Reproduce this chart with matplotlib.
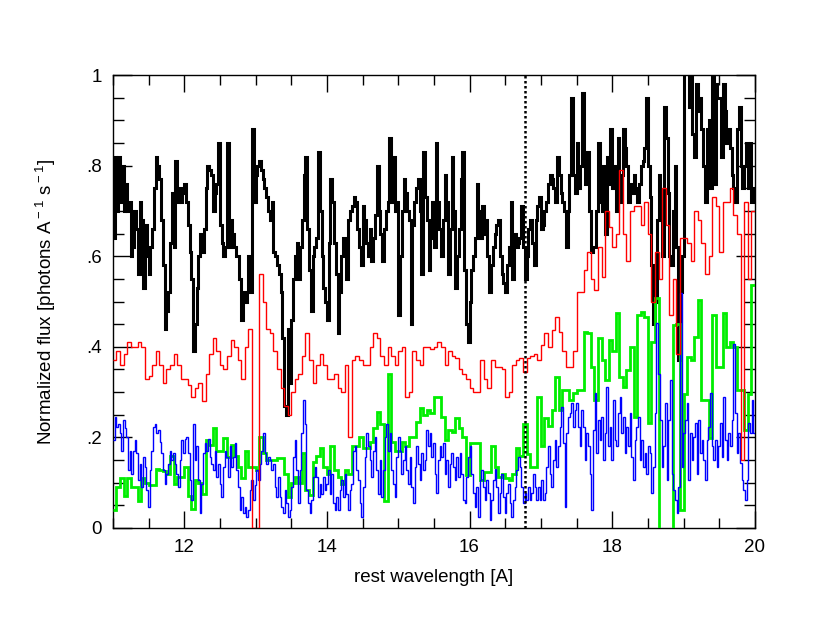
import numpy as np
import matplotlib
matplotlib.use("Agg")
import matplotlib.pyplot as plt
from matplotlib.ticker import MultipleLocator, FixedLocator

plt.rcParams['font.family'] = ['Liberation Sans', 'DejaVu Sans']
plt.rcParams['mathtext.fontset'] = 'custom'
plt.rcParams['mathtext.rm'] = 'Liberation Sans'

# wavelength range [A]
wave_min, wave_max = 11.0, 20.0
line_wave = 16.78  # dotted marker line

# black spectrum, 0.025 A bins
black_flux = [
    0.64, 0.82, 0.70, 0.82, 0.72, 0.80, 0.70, 0.76, 0.70, 0.72,
    0.60, 0.62, 0.70, 0.66, 0.56, 0.72, 0.68, 0.53, 0.67, 0.60,
    0.56, 0.62, 0.66, 0.75, 0.82, 0.80, 0.77, 0.68, 0.58, 0.44,
    0.48, 0.52, 0.63, 0.74, 0.62, 0.81, 0.72, 0.75, 0.72, 0.74,
    0.76, 0.72, 0.67, 0.61, 0.55, 0.39, 0.45, 0.53, 0.60, 0.65,
    0.61, 0.66, 0.75, 0.80, 0.79, 0.78, 0.70, 0.74, 0.76, 0.85,
    0.67, 0.63, 0.60, 0.62, 0.85, 0.62, 0.68, 0.65, 0.62, 0.60,
    0.60, 0.55, 0.46, 0.52, 0.50, 0.52, 0.60, 0.52, 0.88, 0.72,
    0.78, 0.80, 0.81, 0.79, 0.77, 0.75, 0.73, 0.70, 0.68, 0.72,
    0.61, 0.60, 0.58, 0.56, 0.52, 0.42, 0.27, 0.25, 0.44, 0.32,
    0.46, 0.55, 0.60, 0.63, 0.55, 0.62, 0.68, 0.78, 0.82, 0.66,
    0.57, 0.48, 0.60, 0.62, 0.64, 0.83, 0.70, 0.60, 0.53, 0.50,
    0.46, 0.63, 0.77, 0.72, 0.63, 0.56, 0.43, 0.52, 0.60, 0.64,
    0.64, 0.55, 0.68, 0.70, 0.71, 0.73, 0.72, 0.66, 0.62, 0.58,
    0.71, 0.68, 0.63, 0.60, 0.66, 0.59, 0.64, 0.69, 0.80, 0.70,
    0.65, 0.59, 0.66, 0.70, 0.72, 0.86, 0.72, 0.82, 0.70, 0.72,
    0.47, 0.60, 0.70, 0.77, 0.74, 0.70, 0.68, 0.45, 0.67, 0.72,
    0.75, 0.77, 0.70, 0.56, 0.83, 0.73, 0.68, 0.57, 0.64, 0.72,
    0.62, 0.85, 0.72, 0.66, 0.60, 0.68, 0.78, 0.72, 0.56, 0.66,
    0.82, 0.70, 0.53, 0.60, 0.66, 0.77, 0.83, 0.57, 0.45, 0.41,
    0.50, 0.57, 0.60, 0.64, 0.76, 0.70, 0.64, 0.71, 0.65, 0.68,
    0.60, 0.52, 0.58, 0.62, 0.65, 0.67, 0.68, 0.60, 0.56, 0.54,
    0.52, 0.58, 0.62, 0.72, 0.55, 0.65, 0.62, 0.63, 0.64, 0.71,
    0.62, 0.55, 0.60, 0.66, 0.68, 0.63, 0.58, 0.68, 0.71, 0.73,
    0.66, 0.67, 0.70, 0.72, 0.76, 0.78, 0.77, 0.75, 0.72, 0.82,
    0.78, 0.74, 0.72, 0.70, 0.62, 0.70, 0.78, 0.95, 0.78, 0.74,
    0.85, 0.75, 0.80, 0.96, 0.82, 0.76, 0.83, 0.70, 0.61, 0.62,
    0.62, 0.70, 0.85, 0.72, 0.70, 0.80, 0.65, 0.82, 0.76, 0.88,
    0.75, 0.80, 0.70, 0.86, 0.72, 0.78, 0.88, 0.84, 0.80, 0.72,
    0.76, 0.74, 0.78, 0.75, 0.72, 0.76, 0.80, 0.81, 0.84, 0.95,
    0.80, 0.73, 0.58, 0.45, 0.50, 0.68, 0.78, 0.70, 0.60, 0.93,
    0.86, 0.74, 0.60, 0.58, 0.70, 0.80, 0.62, 0.37, 0.52, 0.60,
    1.05, 1.05, 1.02, 0.93, 1.02, 0.87, 0.82, 0.98, 0.92, 0.95,
    0.88, 0.80, 0.72, 0.88, 0.90, 0.75, 1.05, 0.76, 0.98, 0.95,
    0.95, 0.82, 0.98, 0.92, 0.85, 0.88, 0.84, 0.78, 0.75, 0.72,
    0.88, 0.93, 0.80, 0.75, 0.80, 0.85, 0.75, 0.85, 0.72, 0.75,
]

# red spectrum, 0.05 A bins
red_flux = [
    0.37, 0.39, 0.36, 0.385, 0.41, 0.40, 0.40, 0.41, 0.40, 0.33,
    0.335, 0.36, 0.39, 0.36, 0.32, 0.35, 0.36, 0.385, 0.36, 0.33,
    0.33, 0.315, 0.29, 0.31, 0.32, 0.28, 0.34, 0.385, 0.42, 0.39,
    0.36, 0.35, 0.38, 0.415, 0.40, 0.37, 0.33, 0.40, 0.44, 0.0,
    0.0, 0.56, 0.50, 0.44, 0.43, 0.39, 0.35, 0.31, 0.27, 0.25,
    0.30, 0.33, 0.34, 0.38, 0.43, 0.37, 0.32, 0.36, 0.385, 0.36,
    0.33, 0.33, 0.34, 0.31, 0.30, 0.36, 0.20, 0.37, 0.38, 0.37,
    0.36, 0.36, 0.40, 0.43, 0.42, 0.38, 0.36, 0.40, 0.38, 0.36,
    0.39, 0.40, 0.29, 0.30, 0.39, 0.37, 0.36, 0.40, 0.40, 0.395,
    0.40, 0.41, 0.40, 0.36, 0.39, 0.38, 0.375, 0.35, 0.34, 0.33,
    0.31, 0.30, 0.30, 0.37, 0.33, 0.31, 0.37, 0.355, 0.355, 0.35,
    0.29, 0.30, 0.36, 0.37, 0.375, 0.345, 0.375, 0.38, 0.385, 0.37,
    0.405, 0.43, 0.40, 0.437, 0.465, 0.433, 0.39, 0.356, 0.356, 0.39,
    0.52, 0.52, 0.57, 0.61, 0.55, 0.525, 0.62, 0.555, 0.70, 0.665,
    0.62, 0.65, 0.79, 0.65, 0.59, 0.70, 0.71, 0.71, 0.67, 0.72,
    0.65, 0.50, 0.61, 0.55, 0.75, 0.67, 0.47, 0.55, 0.385, 0.64,
    0.64, 0.63, 0.59, 0.70, 0.68, 0.63, 0.56, 0.60, 0.73, 0.71,
    0.61, 0.72, 0.72, 0.75, 0.69, 0.65, 0.15, 0.72, 0.55, 0.70,
]

# green spectrum, 0.05 A bins
green_flux = [
    0.04, 0.09, 0.11, 0.07, 0.11, 0.09, 0.09, 0.06, 0.11, 0.10,
    0.095, 0.095, 0.13, 0.128, 0.125, 0.12, 0.158, 0.098, 0.113, 0.113,
    0.135, 0.07, 0.043, 0.106, 0.10, 0.076, 0.194, 0.183, 0.22, 0.17,
    0.17, 0.198, 0.157, 0.183, 0.16, 0.135, 0.11, 0.17, 0.135, 0.135,
    0.128, 0.20, 0.165, 0.15, 0.15, 0.15, 0.154, 0.154, 0.12, 0.069,
    0.10, 0.113, 0.10, 0.165, 0.084, 0.073, 0.146, 0.16, 0.176, 0.135,
    0.12, 0.18, 0.128, 0.113, 0.098, 0.128, 0.12, 0.18, 0.18, 0.20,
    0.176, 0.176, 0.19, 0.22, 0.256, 0.23, 0.06, 0.34, 0.19, 0.17,
    0.17, 0.19, 0.18, 0.20, 0.20, 0.235, 0.265, 0.25, 0.26, 0.253,
    0.29, 0.29, 0.246, 0.194, 0.216, 0.213, 0.242, 0.22, 0.20, 0.117,
    0.187, 0.187, 0.187, 0.106, 0.124, 0.124, 0.18, 0.135, 0.113, 0.12,
    0.11, 0.106, 0.12, 0.176, 0.158, 0.23, 0.164, 0.135, 0.135, 0.29,
    0.18, 0.242, 0.226, 0.26, 0.334, 0.26, 0.305, 0.305, 0.283, 0.297,
    0.305, 0.305, 0.433, 0.43, 0.356, 0.283, 0.42, 0.37, 0.326, 0.415,
    0.39, 0.474, 0.334, 0.312, 0.349, 0.40, 0.246, 0.47, 0.477, 0.466,
    0.231, 0.41, 0.507, -0.02, -0.02, -0.02, -0.02, 0.448, 0.45, 0.04,
    0.296, 0.378, 0.37, 0.422, 0.503, 0.283, 0.283, 0.198, 0.47, 0.356,
    0.356, 0.474, 0.40, 0.41, 0.40, 0.305, 0.305, 0.216, 0.296, 0.536,
]

# blue spectrum, fine bins (~0.023 A)
blue_flux = [
    0.195, 0.246, 0.224, 0.23, 0.21, 0.17, 0.238, 0.22, 0.20, 0.128,
    0.17, 0.12, 0.17, 0.195, 0.165, 0.106, 0.142, 0.091, 0.157, 0.135,
    0.084, 0.047, 0.128, 0.17, 0.224, 0.23, 0.21, 0.216, 0.19, 0.165,
    0.128, 0.098, 0.12, 0.142, 0.17, 0.15, 0.165, 0.142, 0.12, 0.091,
    0.15, 0.195, 0.165, 0.197, 0.20, 0.165, 0.106, 0.062, 0.23, 0.15,
    0.18, 0.106, 0.032, 0.098, 0.165, 0.187, 0.17, 0.197, 0.157, 0.142,
    0.128, 0.17, 0.113, 0.142, 0.098, 0.069, 0.135, 0.17, 0.157, 0.113,
    0.18, 0.135, 0.157, 0.187, 0.128, 0.091, 0.04, 0.069, 0.032, 0.047,
    0.025, 0.04, 0.084, 0.106, 0.062, 0.095, 0.128, 0.106, 0.142, 0.17,
    0.21, 0.165, 0.142, 0.157,
    0.15, 0.128, 0.142, 0.091, 0.069, 0.113, 0.069, 0.047, 0.032, 0.084,
    0.055, 0.025, 0.04, 0.091, 0.157, 0.195, 0.128, 0.055, 0.128, 0.21,
    0.283, 0.23, 0.084, 0.055, 0.032, 0.062, 0.113, 0.135, 0.113, 0.069,
    0.098, 0.076, 0.113, 0.084, 0.098, 0.128, 0.076, 0.12, 0.055, 0.04,
    0.069, 0.04, 0.084, 0.106, 0.069, 0.12, 0.076, 0.04, 0.084, 0.098,
    0.17, 0.18, 0.128, 0.106, 0.055, 0.025, 0.091, 0.157, 0.21, 0.18,
    0.15, 0.113, 0.17, 0.20, 0.128, 0.076, 0.15, 0.069, 0.128, 0.20,
    0.23, 0.17, 0.21, 0.128, 0.098, 0.069, 0.157, 0.20, 0.17, 0.12,
    0.15, 0.18, 0.128, 0.098, 0.157, 0.091, 0.055, 0.135, 0.18, 0.142,
    0.106, 0.165, 0.128, 0.15, 0.216, 0.18,
    0.21, 0.157, 0.187, 0.12, 0.077, 0.15, 0.18, 0.157, 0.187, 0.12,
    0.15, 0.091, 0.142, 0.165, 0.135, 0.106, 0.157, 0.113, 0.165, 0.12,
    0.062, 0.055, 0.113, 0.157, 0.18, 0.12, 0.077, 0.047, 0.091, 0.025,
    0.106, 0.128, 0.091, 0.062, 0.106, 0.077, 0.018, 0.062, 0.106, 0.131,
    0.091, 0.032, 0.077, 0.12, 0.069, 0.032, 0.077, 0.098, 0.055, 0.025,
    0.062, 0.091, 0.128, 0.157, 0.135, 0.091, 0.055, 0.077, 0.062, 0.091,
    0.062, 0.077, 0.12, 0.091, 0.062, 0.091, 0.062, 0.106, 0.062, 0.077,
    0.135, 0.18, 0.12, 0.091, 0.15, 0.194, 0.135, 0.18, 0.224, 0.268,
    0.187, 0.047, 0.21, 0.246, 0.253, 0.275, 0.224, 0.26, 0.275, 0.224,
    0.18, 0.26, 0.224, 0.15, 0.21, 0.18,
    0.12, 0.04, 0.216, 0.297, 0.165, 0.238, 0.194, 0.246, 0.15, 0.209,
    0.312, 0.18, 0.224, 0.15, 0.283, 0.194, 0.18, 0.253, 0.29, 0.209,
    0.246, 0.165, 0.224, 0.18, 0.253, 0.157, 0.106, 0.194, 0.224, 0.246,
    0.15, 0.194, 0.135, 0.165, 0.12, 0.18, 0.165, 0.077, 0.135, 0.253,
    0.452, 0.341, 0.238, 0.135, 0.18, 0.275, 0.106, 0.238, 0.327, 0.12,
    0.084, 0.062, 0.033, 0.091, 0.518, 0.135, 0.209, 0.238, 0.275, 0.106,
    0.209, 0.15, 0.201, 0.231, 0.12, 0.238, 0.165, 0.194, 0.15, 0.106,
    0.194, 0.224, 0.297, 0.18, 0.15, 0.194, 0.135, 0.18, 0.231, 0.157,
    0.29, 0.194, 0.15, 0.209, 0.18, 0.238, 0.407, 0.253, 0.165, 0.209,
    0.143, 0.106, 0.084, 0.062, 0.106, 0.231, 0.209, 0.283, 0.209,
]

y_ticks = [0, 0.2, 0.4, 0.6, 0.8, 1.0]
y_ticklabels = ["0", ".2", ".4", ".6", ".8", "1"]
x_ticks = [12, 14, 16, 18, 20]


def edges(vals):
    return np.linspace(wave_min, wave_max, len(vals) + 1)


fig = plt.figure(figsize=(8.3, 6.42), dpi=100)
ax = fig.add_axes([0.136, 0.1776, 0.7735, 0.7055])

ax.stairs(black_flux, edges(black_flux), baseline=None, color="black", lw=2.2, zorder=2)
ax.stairs(green_flux, edges(green_flux), baseline=None, color="#00ee00", lw=2.0, zorder=3)
ax.stairs(blue_flux, edges(blue_flux), baseline=None, color="#0000ff", lw=1.0, zorder=4)
ax.stairs(red_flux, edges(red_flux), baseline=None, color="#ff0000", lw=1.0, zorder=5)
ax.axvline(line_wave, color="black", ls=(0, (1, 1)), lw=1.8, zorder=6)

ax.set_xlim(wave_min, wave_max)
ax.set_ylim(0, 1)

ax.xaxis.set_major_locator(FixedLocator(x_ticks))
ax.xaxis.set_minor_locator(MultipleLocator(0.5))
ax.set_yticks(y_ticks)
ax.set_yticklabels(y_ticklabels)
ax.yaxis.set_minor_locator(MultipleLocator(0.05))

ax.tick_params(which="both", direction="in", top=True, right=True, labelsize=13.5, width=1)
ax.tick_params(axis="x", which="major", length=12, pad=8)
ax.tick_params(axis="x", which="minor", length=7)
ax.tick_params(axis="y", which="major", length=14, pad=8)
ax.tick_params(axis="y", which="minor", length=8)
for s in ax.spines.values():
    s.set_linewidth(1.0)

ax.set_xlabel("rest wavelength [A]", fontsize=13.5, labelpad=9)
ax.set_ylabel(r"Normalized flux [photons A$^{\rm -1}$ s$^{\rm -1}$]", fontsize=13.5, labelpad=20)

fig.savefig("out.png", dpi=100)
